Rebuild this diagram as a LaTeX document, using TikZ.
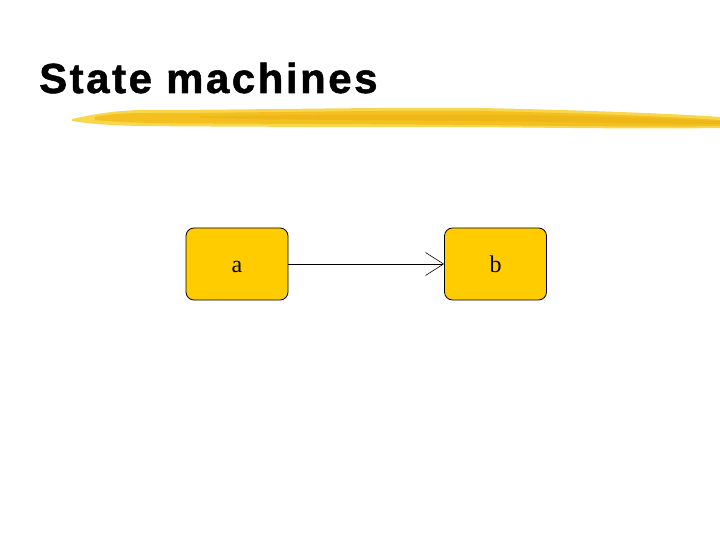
\documentclass[tikz,border=0pt]{standalone}
\usepackage{fontspec}
\setmainfont{Liberation Serif}
\newfontfamily\titlefont[LetterSpace=6,FakeBold=1.2]{Liberation Sans}
\usetikzlibrary{arrows.meta}
\definecolor{boxfill}{HTML}{FFCC00}
\definecolor{brush}{HTML}{F3C020}
\definecolor{brushlight}{HTML}{F8D64E}
\definecolor{brushdark}{HTML}{EDB817}
\tikzset{
  statebox/.style={draw=black, fill=boxfill, rounded corners=8bp, minimum width=102bp, minimum height=72bp, line width=0.8bp, inner sep=0pt, font=\fontsize{24bp}{28bp}\selectfont, text height=17bp, text depth=0bp},
  trans/.style={-{Straight Barb[length=18bp,width=23bp,line width=0.6bp]}, line width=0.6bp},
}
\begin{document}
\begin{tikzpicture}[x=1bp,y=-1bp]
\useasboundingbox (0,0) rectangle (720,540);
\fill[white] (0,0) rectangle (720,540);
% brush stroke
\fill[brushlight] (72,119) .. controls (90,115) and (110,111) .. (140,110)
  .. controls (250,110) and (380,107) .. (480,108)
  .. controls (580,110) and (680,114) .. (720,117) -- (720,128)
  .. controls (650,129) and (560,128) .. (480,127)
  .. controls (380,127) and (250,127) .. (140,126)
  .. controls (100,125) and (85,123) .. (72,121) -- cycle;
\fill[brush] (95,117) .. controls (110,114) and (125,113) .. (150,113)
  .. controls (250,113) and (380,110) .. (480,111)
  .. controls (580,113) and (680,117) .. (720,120) -- (720,126)
  .. controls (650,127) and (560,126) .. (480,125)
  .. controls (380,124) and (250,124) .. (150,123)
  .. controls (120,122) and (105,121) .. (95,120) -- cycle;
\fill[brushdark] (200,116) .. controls (300,115) and (420,114) .. (520,115)
  .. controls (600,116) and (680,119) .. (720,121) -- (720,124)
  .. controls (650,124) and (560,122) .. (480,121)
  .. controls (380,120) and (280,120) .. (200,118) -- cycle;
\node[anchor=base west, inner sep=0pt, font=\titlefont\bfseries\fontsize{42bp}{48bp}\selectfont] (title) at (39,93) {State machines};
\node[statebox] (a) at (237,264) {a};
\node[statebox] (b) at (495.5,264) {b};
\draw[trans] (a) -- (b);
\end{tikzpicture}
\end{document}
